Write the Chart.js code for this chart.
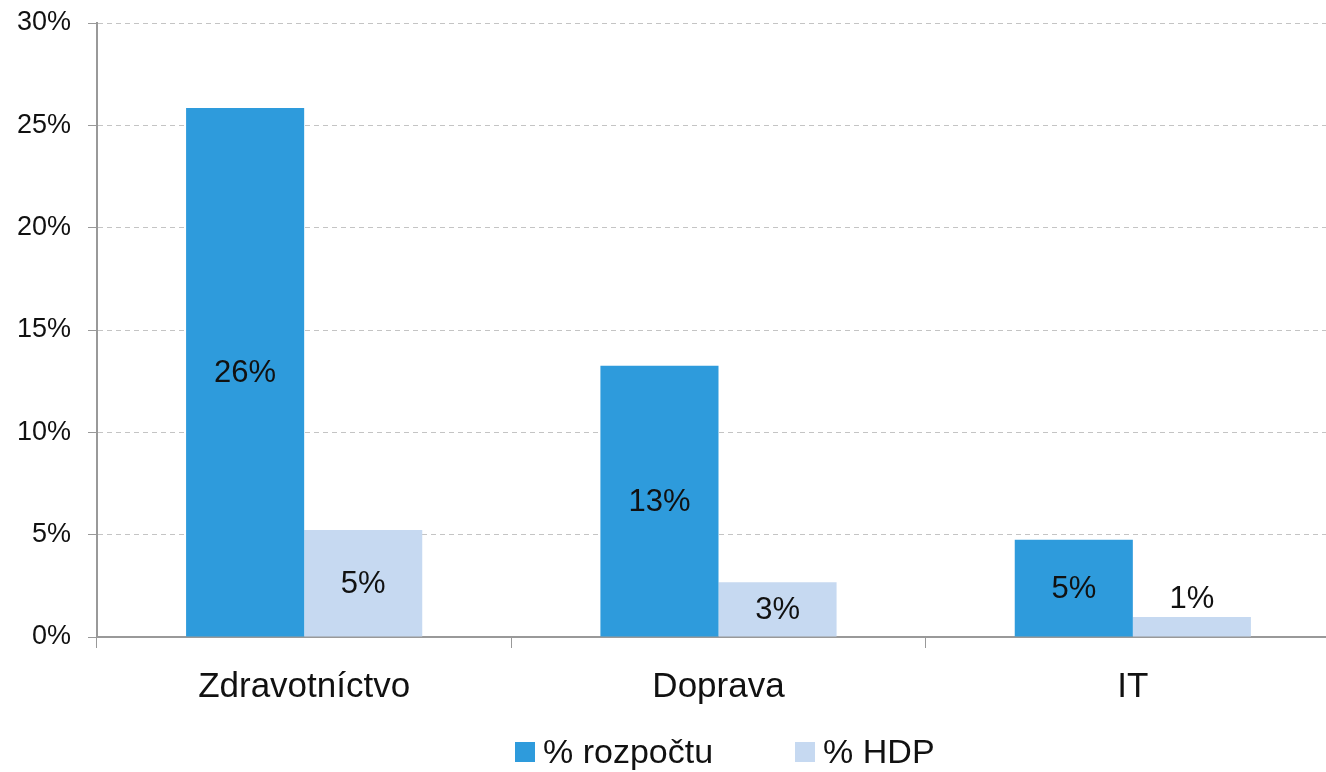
<!DOCTYPE html>
<html>
<head>
<meta charset="utf-8">
<script src="https://cdn.jsdelivr.net/npm/chart.js@4"></script>
<style>
  html, body { margin: 0; padding: 0; background: #fff; overflow: hidden; }
  #wrap { position: relative; width: 1340px; height: 772px; }
  #legend {
    position: absolute; left: 515px; top: 734px;
    display: flex; align-items: center;
    font: 34px "Liberation Sans", Arial, sans-serif; line-height: 34px; color: #111;
  }
  #legend .item { display: flex; align-items: center; margin-right: 82px; }
  #legend .box { width: 20px; height: 20px; margin-right: 8px; margin-top: 2px; }
</style>
</head>
<body>
<div id="wrap">
  <canvas id="chart"></canvas>
  <div id="legend"></div>
</div>
<script>
// Data
const categories = ['Zdravotníctvo', 'Doprava', 'IT'];
const rozpoctu = [25.85, 13.25, 4.75];
const hdp = [5.23, 2.68, 0.98];
const seriesNames = ['% rozpočtu', '% HDP'];
const colors = ['#2e9bdc', '#c6d9f1'];

const FONT = '"Liberation Sans", Arial, sans-serif';

// Draw value labels: centred in the bar, above it when the bar is too short
const barLabels = {
    id: 'barLabels',
    afterDatasetsDraw(chart) {
        const ctx = chart.ctx;
        ctx.save();
        ctx.font = '31px ' + FONT;
        ctx.fillStyle = '#111';
        ctx.textAlign = 'center';
        chart.data.datasets.forEach((ds, i) => {
            const meta = chart.getDatasetMeta(i);
            meta.data.forEach((bar, j) => {
                const h = bar.base - bar.y;
                const txt = Math.round(ds.data[j]) + '%';
                if (h > 36) {
                    ctx.textBaseline = 'middle';
                    ctx.fillText(txt, bar.x, (bar.y + bar.base) / 2 + 1);
                } else {
                    ctx.textBaseline = 'bottom';
                    ctx.fillText(txt, bar.x, bar.y - 2);
                }
            });
        });
        ctx.restore();
    }
};

const chart = new Chart(document.getElementById('chart'), {
    type: 'bar',
    data: {
        labels: categories,
        datasets: [
            { label: seriesNames[0], data: rozpoctu, backgroundColor: colors[0] },
            { label: seriesNames[1], data: hdp, backgroundColor: colors[1] }
        ]
    },
    options: {
        responsive: true,
        maintainAspectRatio: false,
        animation: false,
        layout: { padding: { top: 23, left: 0, right: 0, bottom: 46 } },
        datasets: { bar: { categoryPercentage: 0.57, barPercentage: 1.0 } },
        scales: {
            x: {
                grid: { drawOnChartArea: false, tickLength: 11, color: '#999', offset: true },
                border: { color: '#999', width: 2 },
                ticks: { font: { family: FONT, size: 35 }, color: '#111', padding: 18 }
            },
            y: {
                min: 0,
                max: 30,
                afterFit(scale) {
                    scale.width = 97;
                    scale.paddingTop = 0;
                    scale.paddingBottom = 0;
                },
                grid: { color: '#c4c4c4', tickLength: 9, tickColor: '#999', tickBorderDash: [] },
                border: { color: '#999', width: 2, dash: [5, 4] },
                ticks: {
                    stepSize: 5,
                    font: { family: FONT, size: 27 },
                    color: '#111',
                    padding: 17,
                    callback: v => v + '%'
                }
            }
        },
        plugins: {
            legend: { display: false },
            tooltip: { enabled: false }
        }
    },
    plugins: [barLabels]
});

// HTML legend built from the datasets
const legendEl = document.getElementById('legend');
chart.data.datasets.forEach(ds => {
    const item = document.createElement('div');
    item.className = 'item';
    item.innerHTML = `<span class="box" style="background:${ds.backgroundColor}"></span><span>${ds.label}</span>`;
    legendEl.appendChild(item);
});
</script>
</body>
</html>
